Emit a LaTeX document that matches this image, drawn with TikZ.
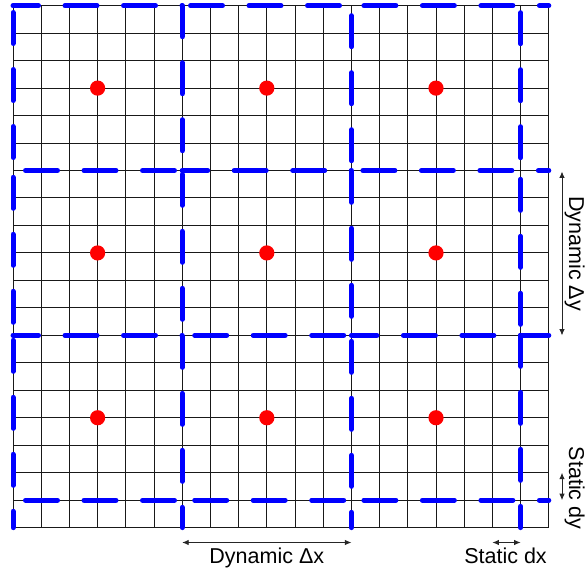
\documentclass[tikz,border=0pt]{standalone}
\usepackage{fontspec}
\setmainfont{Liberation Sans}
\usetikzlibrary{arrows.meta}
\begin{document}
\begin{tikzpicture}[x=1pt,y=-1pt,
  gridline/.style={black!90, line width=1pt},
  hblue/.style={blue, line width=5pt, line cap=round, dash pattern=on 32pt off 26.5pt, dash phase=#1},
  vblue/.style={blue, line width=5pt, line cap=round, dash pattern=on 31pt off 26pt, dash phase=#1},
  reddot/.style={fill=red, draw=none},
  dimarrow/.style={black!85, line width=0.9pt, {Latex[length=6.5pt,width=5.5pt]}-{Latex[length=6.5pt,width=5.5pt]}},
  lbl/.style={font=\fontsize{21.5}{25}\selectfont, inner sep=0pt, anchor=base}
]
\useasboundingbox (0,0) rectangle (586,569);
% fine grid
\foreach \i in {0,...,19} {
  \draw[gridline] ({13+28.2*\i},5.7) -- ({13+28.2*\i},527.7);
}
\foreach \j in {0,...,19} {
  \draw[gridline] (13,{5.7+27.47*\j}) -- (548.8,{5.7+27.47*\j});
}
% horizontal blue dashed lines: row / start col / end col / phase
\foreach \r/\a/\b/\p in {0/0/6/6.5, 0/6/12/50.2, 0/12/19/46,
                          6/0/6/46, 6/6/12/6.5, 6/12/19/47,
                          12/0/6/6.5, 12/6/12/46, 12/12/19/6.5,
                          18/0/6/46, 18/6/12/46, 18/12/19/46} {
  \draw[hblue=\p] ({13+28.2*\a},{5.7+27.47*\r}) -- ({13+28.2*\b},{5.7+27.47*\r});
}
% vertical blue dashed lines: col / start row / end row / phase
\foreach \c/\a/\b/\p in {0/0/6/50.2, 0/6/12/50.2, 0/12/19/52,
                          6/0/6/0, 6/6/12/53.2, 6/12/19/56,
                          12/0/6/47, 12/6/12/56.2, 12/12/19/51,
                          18/0/6/50, 18/6/12/48.2, 18/12/19/0} {
  \draw[vblue=\p] ({13+28.2*\c},{5.7+27.47*\a}) -- ({13+28.2*\c},{5.7+27.47*\b});
}
% red centre points
\foreach \c in {3,9,15} {
  \foreach \r in {3,9,15} {
    \fill[reddot] ({13+28.2*\c},{5.7+27.47*\r}) circle (7.6);
  }
}
% dimension arrows
\coordinate (dxa) at (182.2,542.5);
\coordinate (dxb) at (351.4,542.5);
\coordinate (sxa) at (492.4,542.5);
\coordinate (sxb) at (520.6,542.5);
\coordinate (dya) at (562,171.5);
\coordinate (dyb) at (562,335.5);
\coordinate (sya) at (562,472.7);
\coordinate (syb) at (562,500.2);
\draw[dimarrow] (dxa) -- (dxb);
\draw[dimarrow] (sxa) -- (sxb);
\draw[dimarrow] (dya) -- (dyb);
\draw[dimarrow] (sya) -- (syb);
\node[lbl] (tdx) at (266.8,563) {Dynamic Δx};
\node[lbl] (tsx) at (505.5,563) {Static dx};
\node[lbl, rotate=-90] (tdy) at (569,253.5) {Dynamic Δy};
\node[lbl, rotate=-90] (tsy) at (569,488) {Static dy};
\end{tikzpicture}
\end{document}
